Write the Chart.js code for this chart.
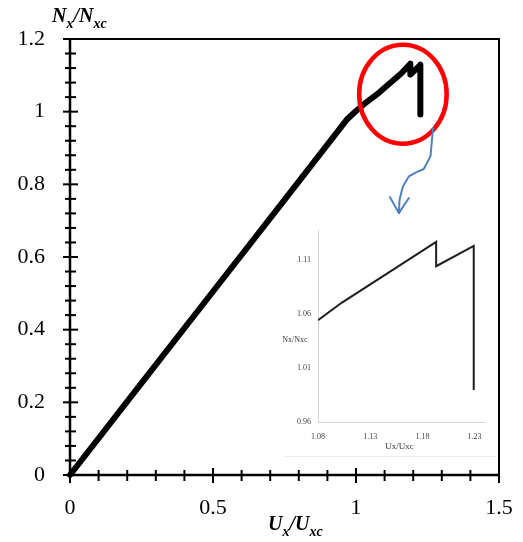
<!DOCTYPE html>
<html><head><meta charset="utf-8">
<script src="https://cdn.jsdelivr.net/npm/chart.js@4.4.0/dist/chart.umd.min.js"></script>
<style>
html,body{margin:0;padding:0;background:#fff;}
#wrap{position:relative;width:523px;height:542px;overflow:hidden;}
#main{position:absolute;left:0;top:0;}
#inset{position:absolute;left:262px;top:226px;}
</style></head><body>
<div id="wrap"><canvas id="main" width="523" height="542"></canvas><canvas id="inset" width="236" height="232"></canvas></div>
<script>
// ---- main curve (Ux/Uxc , Nx/Nxc)
const mainX = [0, 0.25, 0.5, 0.75, 0.97, 1.0, 1.03, 1.08, 1.103, 1.158, 1.19, 1.19, 1.225, 1.225];
const mainY = [0, 0.253, 0.505, 0.757, 0.98, 1.002, 1.022, 1.052, 1.068, 1.105, 1.132, 1.102, 1.129, 0.992];
// ---- inset (zoomed) curve
const insetX = [1.08, 1.1026, 1.1576, 1.1932, 1.1932, 1.2292, 1.2292];
const insetY = [1.0544, 1.0705, 1.1047, 1.127, 1.1044, 1.1232, 0.9896];
// ---- tick values / labels
const mainXTicks = [0, 0.5, 1, 1.5];
const mainXTickLabels = ['0', '0.5', '1', '1.5'];
const mainXMinor = [0.1, 0.2, 0.3, 0.4, 0.6, 0.7, 0.8, 0.9, 1.1, 1.2, 1.3, 1.4];
const mainYTicks = [0, 0.2, 0.4, 0.6, 0.8, 1, 1.2];
const mainYTickLabels = ['0', '0.2', '0.4', '0.6', '0.8', '1', '1.2'];
const mainYMinor = [0.04,0.08,0.12,0.16,0.24,0.28,0.32,0.36,0.44,0.48,0.52,0.56,0.64,0.68,0.72,0.76,0.84,0.88,0.92,0.96,1.04,1.08,1.12,1.16];
const insetXTicks = [1.08, 1.13, 1.18, 1.23];
const insetXTickLabels = ['1.08', '1.13', '1.18', '1.23'];
const insetYTicks = [0.96, 1.01, 1.06, 1.11];
const insetYTickLabels = ['0.96', '1.01', '1.06', '1.11'];
// ---- annotation (red circle and blue arrow), data units
const circleCenter = [1.164, 1.048];
const circleRadius = [0.153, 0.136];
const arrowPathX = [1.2693, 1.2603, 1.2369, 1.2101, 1.1847, 1.1638, 1.1523, 1.1498];
const arrowPathY = [0.9551, 0.8769, 0.8421, 0.8328, 0.8218, 0.7942, 0.7576, 0.7209];
const arrowHeadX = [1.1185, 1.1498, 1.1847];
const arrowHeadY = [0.7650, 0.7209, 0.7623];

const SERIF = '"Liberation Serif", "Times New Roman", serif';

function drawSubText(ctx, parts, x, y, size, subSize) {
  let cx = x;
  parts.forEach(([t, sub]) => {
    ctx.font = 'italic bold ' + (sub ? subSize : size) + 'px ' + SERIF;
    ctx.fillText(t, cx, sub ? y + size * 0.28 : y);
    cx += ctx.measureText(t).width;
  });
}

function noPad(s) { s.paddingLeft = 0; s.paddingRight = 0; s.paddingTop = 0; s.paddingBottom = 0; }

const mainPlugin = {
  id: 'mainDeco',
  beforeDatasetsDraw(chart) {
    const ctx = chart.ctx, a = chart.chartArea, xs = chart.scales.x, ys = chart.scales.y;
    ctx.save();
    ctx.strokeStyle = '#000';
    ctx.lineCap = 'butt';
    ctx.lineWidth = 2;
    ctx.beginPath();
    ctx.moveTo(a.left, a.top); ctx.lineTo(a.right, a.top); ctx.lineTo(a.right, a.bottom);
    ctx.stroke();
    ctx.lineWidth = 2.5;
    ctx.beginPath();
    ctx.moveTo(a.left, a.top - 1); ctx.lineTo(a.left, a.bottom); ctx.lineTo(a.right + 1, a.bottom);
    ctx.stroke();
    ctx.lineWidth = 2;
    mainXTicks.forEach(v => { const p = xs.getPixelForValue(v); ctx.beginPath(); ctx.moveTo(p, a.bottom - 7); ctx.lineTo(p, a.bottom + 8); ctx.stroke(); });
    mainXMinor.forEach(v => { const p = xs.getPixelForValue(v); ctx.beginPath(); ctx.moveTo(p, a.bottom - 5); ctx.lineTo(p, a.bottom + 6); ctx.stroke(); });
    mainYTicks.forEach(v => { const p = ys.getPixelForValue(v); ctx.beginPath(); ctx.moveTo(a.left - 7, p); ctx.lineTo(a.left + 8, p); ctx.stroke(); });
    mainYMinor.forEach(v => { const p = ys.getPixelForValue(v); ctx.beginPath(); ctx.moveTo(a.left - 5, p); ctx.lineTo(a.left + 6, p); ctx.stroke(); });
    ctx.fillStyle = '#000';
    ctx.textBaseline = 'alphabetic';
    ctx.textAlign = 'left';
    drawSubText(ctx, [['N', false], ['x', true], ['/', false], ['N', false], ['xc', true]], 52, 22, 20, 14);
    drawSubText(ctx, [['U', false], ['x', true], ['/', false], ['U', false], ['xc', true]], 268, 530, 20, 14);
    ctx.restore();
  },
  afterDraw(chart) {
    const ctx = chart.ctx, xs = chart.scales.x, ys = chart.scales.y;
    ctx.save();
    const cx = xs.getPixelForValue(circleCenter[0]), cy = ys.getPixelForValue(circleCenter[1]);
    const rx = xs.getPixelForValue(circleCenter[0] + circleRadius[0]) - cx;
    const ry = cy - ys.getPixelForValue(circleCenter[1] + circleRadius[1]);
    ctx.strokeStyle = '#ff0000';
    ctx.lineWidth = 4.5;
    ctx.beginPath(); ctx.ellipse(cx, cy, rx, ry, 0, 0, Math.PI * 2); ctx.stroke();
    ctx.strokeStyle = '#4f81bd';
    ctx.lineWidth = 2;
    ctx.lineJoin = 'round'; ctx.lineCap = 'round';
    ctx.beginPath();
    arrowPathX.forEach((x, i) => { const px = xs.getPixelForValue(x), py = ys.getPixelForValue(arrowPathY[i]); if (i === 0) ctx.moveTo(px, py); else ctx.lineTo(px, py); });
    ctx.stroke();
    ctx.beginPath();
    arrowHeadX.forEach((x, i) => { const px = xs.getPixelForValue(x), py = ys.getPixelForValue(arrowHeadY[i]); if (i === 0) ctx.moveTo(px, py); else ctx.lineTo(px, py); });
    ctx.stroke();
    ctx.restore();
  }
};

new Chart(document.getElementById('main'), {
  type: 'scatter',
  data: { datasets: [{
    data: mainX.map((x, i) => ({ x: x, y: mainY[i] })),
    showLine: true, borderColor: '#000', borderWidth: 6, pointRadius: 0,
    borderCapStyle: 'round', borderJoinStyle: 'round', tension: 0, clip: 10
  }] },
  options: {
    responsive: false, animation: false, devicePixelRatio: 1,
    layout: { padding: { left: 0, top: 39, right: 24, bottom: 0 } },
    plugins: { legend: { display: false }, tooltip: { enabled: false } },
    scales: {
      x: {
        type: 'linear', min: 0, max: 1.5,
        afterBuildTicks: s => { s.ticks = mainXTicks.map(v => ({ value: v })); },
        afterFit: s => { s.height = 67; noPad(s); },
        grid: { display: false, drawTicks: false }, border: { display: false },
        ticks: { padding: 20, color: '#000', maxRotation: 0, autoSkip: false,
          font: { family: SERIF, size: 22 },
          callback: (v, i) => mainXTickLabels[i] }
      },
      y: {
        type: 'linear', min: 0, max: 1.2,
        afterBuildTicks: s => { s.ticks = mainYTicks.map(v => ({ value: v })); },
        afterFit: s => { s.width = 70; noPad(s); },
        grid: { display: false, drawTicks: false }, border: { display: false },
        ticks: { padding: 25, color: '#000', autoSkip: false,
          font: { family: SERIF, size: 22 },
          callback: (v, i) => mainYTickLabels[i] }
      }
    }
  },
  plugins: [mainPlugin]
});

const insetPlugin = {
  id: 'insetDeco',
  beforeDraw(chart) {
    const ctx = chart.ctx;
    ctx.save();
    ctx.strokeStyle = '#eeeeee';
    ctx.lineWidth = 1;
    ctx.beginPath(); ctx.moveTo(22, 230.5); ctx.lineTo(234, 230.5); ctx.stroke();
    ctx.restore();
  },
  afterDraw(chart) {
    const ctx = chart.ctx, a = chart.chartArea;
    ctx.save();
    ctx.fillStyle = '#333';
    ctx.font = '8px ' + SERIF;
    ctx.textAlign = 'center';
    ctx.textBaseline = 'middle';
    ctx.fillText('Nx/Nxc', 33, a.top + 110);
    ctx.font = '9px ' + SERIF;
    ctx.fillText('Ux/Uxc', (a.left + a.right) / 2 - 2, a.bottom + 25);
    ctx.restore();
  }
};

new Chart(document.getElementById('inset'), {
  type: 'scatter',
  data: { datasets: [{
    data: insetX.map((x, i) => ({ x: x, y: insetY[i] })),
    showLine: true, borderColor: '#1e1e1e', borderWidth: 2, pointRadius: 0,
    borderJoinStyle: 'miter', tension: 0
  }] },
  options: {
    responsive: false, animation: false, devicePixelRatio: 1,
    layout: { padding: { left: 0, top: 4, right: 13, bottom: 0 } },
    plugins: { legend: { display: false }, tooltip: { enabled: false } },
    scales: {
      x: {
        type: 'linear', min: 1.08, max: 1.24,
        afterBuildTicks: s => { s.ticks = insetXTicks.map(v => ({ value: v })); },
        afterFit: s => { s.height = 36; noPad(s); },
        grid: { display: false, drawTicks: false }, border: { color: '#d4d4d4', width: 1 },
        ticks: { padding: 10, color: '#444', maxRotation: 0, autoSkip: false,
          font: { family: SERIF, size: 8 },
          callback: (v, i) => insetXTickLabels[i] }
      },
      y: {
        type: 'linear', min: 0.96, max: 1.138,
        afterBuildTicks: s => { s.ticks = insetYTicks.map(v => ({ value: v })); },
        afterFit: s => { s.width = 56; noPad(s); },
        grid: { display: false, drawTicks: false }, border: { color: '#d4d4d4', width: 1 },
        ticks: { padding: 7, color: '#444', autoSkip: false,
          font: { family: SERIF, size: 8 },
          callback: (v, i) => insetYTickLabels[i] }
      }
    }
  },
  plugins: [insetPlugin]
});
</script>
</body></html>
